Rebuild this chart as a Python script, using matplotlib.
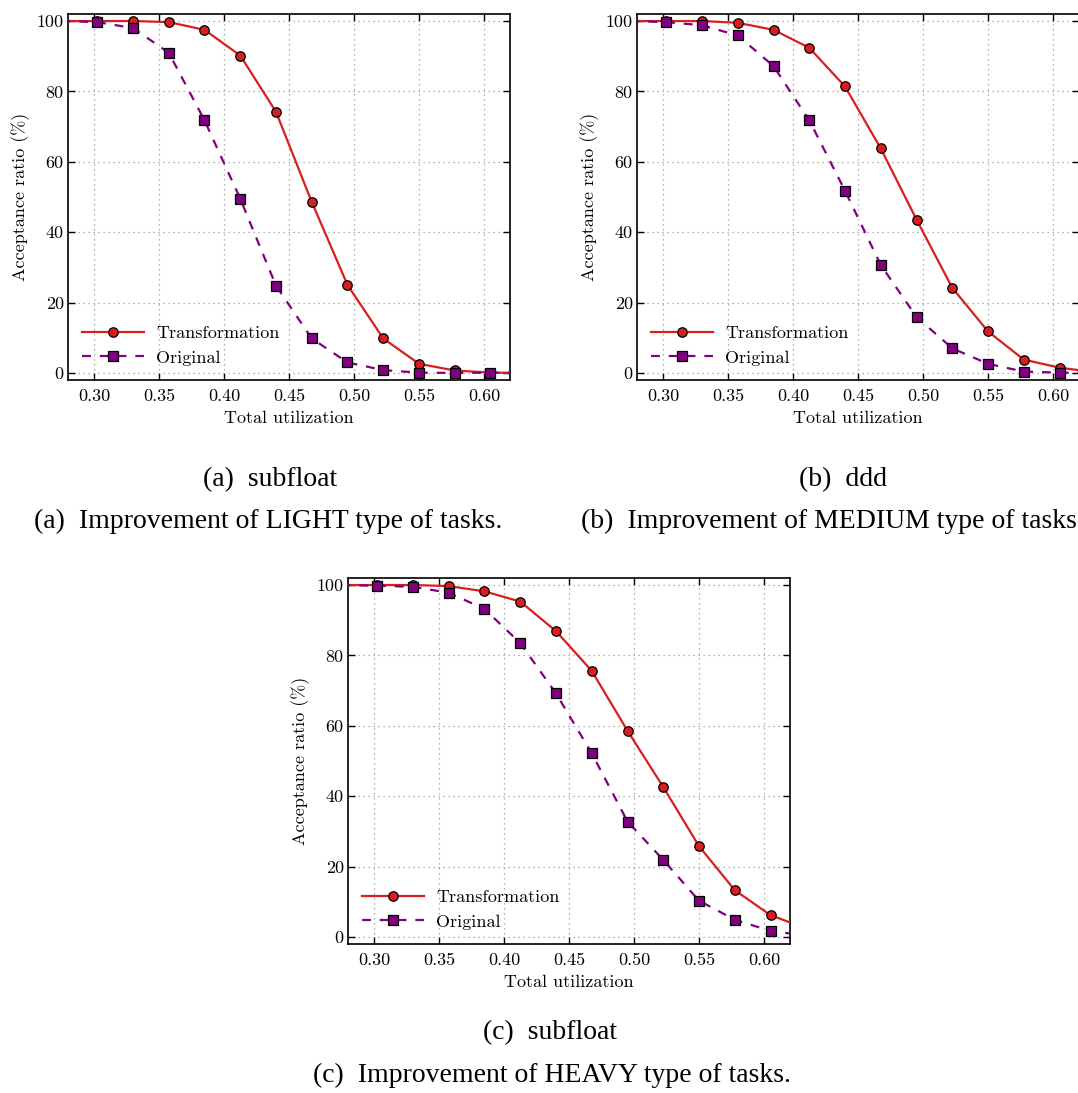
import matplotlib
matplotlib.use("Agg")
import matplotlib.pyplot as plt
from matplotlib.ticker import FixedLocator, FormatStrFormatter

plt.rcParams["font.family"] = ["cmr10", "DejaVu Serif"]
plt.rcParams["axes.formatter.use_mathtext"] = True
plt.rcParams["mathtext.fontset"] = "cm"

# Total utilization sample points (the first and last lie just outside the view)
utilization = [0.275, 0.3025, 0.33, 0.3575, 0.385, 0.4125, 0.44, 0.4675,
               0.495, 0.5225, 0.55, 0.5775, 0.605, 0.6325]

# Acceptance ratio (%) per task type
light_transformation = [100, 100, 100, 99.7, 97.5, 90.2, 74.2, 48.6,
                        25.0, 9.8, 2.6, 0.7, 0.1, 0.0]
light_original = [100, 99.7, 98.0, 91.0, 71.8, 49.5, 24.8, 9.8,
                  3.0, 0.8, 0.1, 0.0, 0.1, 0.0]

medium_transformation = [100, 100, 100, 99.5, 97.5, 92.4, 81.4, 63.8,
                         43.6, 24.2, 11.8, 3.8, 1.5, 0.2]
medium_original = [100, 99.7, 98.8, 95.9, 87.2, 71.8, 51.8, 30.7,
                   15.9, 7.0, 2.6, 0.4, 0.1, 0.0]

heavy_transformation = [100, 100, 100, 99.7, 98.2, 95.3, 86.9, 75.6,
                        58.6, 42.6, 25.8, 13.3, 6.2, 2.4]
heavy_original = [100, 99.8, 99.5, 97.8, 93.2, 83.5, 69.2, 52.2,
                  32.8, 21.9, 10.3, 4.9, 1.7, 0.4]

series_labels = ["Transformation", "Original"]
x_ticks = [0.30, 0.35, 0.40, 0.45, 0.50, 0.55, 0.60]
y_ticks = [0, 20, 40, 60, 80, 100]

W, H = 1078, 1093
fig = plt.figure(figsize=(W / 100, H / 100), dpi=100)


def px_axes(left, top, right, bottom):
    return fig.add_axes([left / W, 1 - bottom / H, (right - left) / W, (bottom - top) / H])


def draw_panel(ax, transformation, original):
    ax.plot(utilization, transformation, color="#d81e1e", lw=1.6, ls="-",
            marker="o", ms=6.8, mfc="#d81e1e", mec="black", mew=0.9,
            label=series_labels[0], zorder=3)
    ax.plot(utilization, original, color="#800080", lw=1.6, ls=(0, (4, 4)),
            marker="s", ms=6.6, mfc="#800080", mec="black", mew=0.9,
            label=series_labels[1], zorder=4)
    ax.set_xlim(0.28, 0.62)
    ax.set_ylim(-2, 102)
    ax.xaxis.set_major_locator(FixedLocator(x_ticks))
    ax.yaxis.set_major_locator(FixedLocator(y_ticks))
    ax.xaxis.set_major_formatter(FormatStrFormatter("%.2f"))
    ax.yaxis.set_major_formatter(FormatStrFormatter("%d"))
    ax.tick_params(direction="in", top=True, right=True, length=5, width=1,
                   labelsize=13, pad=3)
    ax.tick_params(axis="x", pad=6)
    ax.grid(True, color="0.6", ls=(0, (1, 3)), lw=0.9)
    for sp in ax.spines.values():
        sp.set_linewidth(1.2)
    ax.set_xlabel("Total utilization", fontsize=13, labelpad=5)
    ax.set_ylabel("Acceptance ratio (%)", fontsize=13, labelpad=5)
    ax.legend(loc="lower left", frameon=False, fontsize=13, handlelength=3.4,
              handletextpad=0.7, labelspacing=0.5, borderaxespad=0.4)


ax_a = px_axes(68, 14, 510, 380)
draw_panel(ax_a, light_transformation, light_original)

ax_b = px_axes(637, 14, 1079, 380)
draw_panel(ax_b, medium_transformation, medium_original)

ax_c = px_axes(348, 578, 790, 944)
draw_panel(ax_c, heavy_transformation, heavy_original)

# Sub-figure captions
cap = dict(family=["Liberation Serif"], fontsize=20, va="center")
fig.text(270 / W, 1 - 480 / H, "(a)  subfloat", ha="center", **cap)
fig.text(268 / W, 1 - 521 / H, "(a)  Improvement of LIGHT type of tasks.", ha="center", **cap)
fig.text(843 / W, 1 - 480 / H, "(b)  ddd", ha="center", **cap)
fig.text(581 / W, 1 - 521 / H, "(b)  Improvement of MEDIUM type of tasks.", ha="left", **cap)
fig.text(550 / W, 1 - 1033 / H, "(c)  subfloat", ha="center", **cap)
fig.text(552 / W, 1 - 1075 / H, "(c)  Improvement of HEAVY type of tasks.", ha="center", **cap)

fig.savefig("out.png", dpi=100)
